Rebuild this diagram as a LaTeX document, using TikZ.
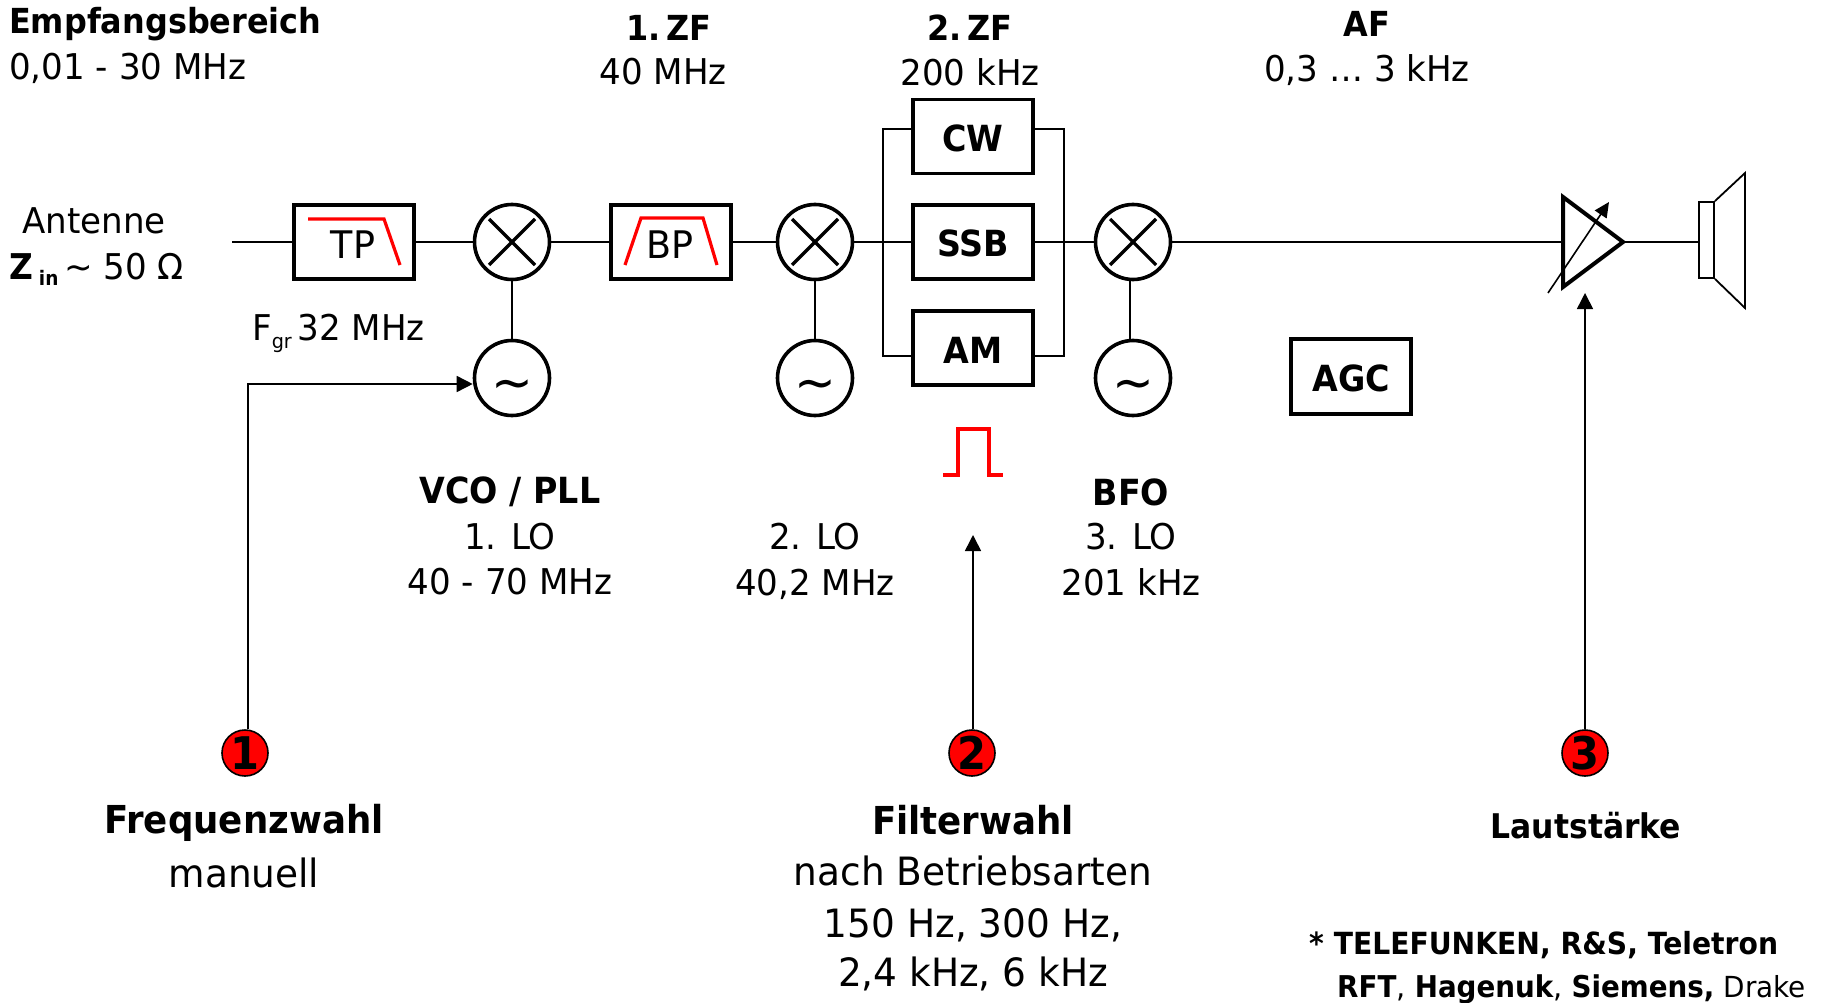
\documentclass[tikz,border=0pt]{standalone}
\usepackage{fontspec}
\setmainfont[FakeStretch=0.96,BoldFeatures={FakeStretch=0.925}]{DejaVu Sans}
\usetikzlibrary{arrows.meta}
\definecolor{redc}{RGB}{255,0,0}
\tikzset{
  x=1pt,y=-1pt,
  line/.style={draw=black,line width=1.6pt},
  arr/.style={line,-{Triangle[length=16pt,width=16pt]}},
  blockbox/.style={draw=black,line width=3.8pt,minimum width=120pt,minimum height=74pt,inner sep=0pt},
  blockbold/.style={blockbox,text height=30pt,text depth=0pt,font=\bfseries\fontsize{36}{36}\selectfont},
  rnd/.style={draw=black,line width=3.6pt,circle,minimum size=75pt,inner sep=0pt},
  osc/.style={rnd,text height=44pt,text depth=0pt,font=\fontsize{52}{52}\selectfont},
  cross/.style={line width=3.2pt},
  redl/.style={draw=redc,line width=3.2pt},
  lab/.style={inner sep=0pt,font=\fontsize{35.5}{35.5}\selectfont,anchor=center},
  labbold/.style={lab,font=\bfseries\fontsize{34.5}{34.5}\selectfont},
  lableft/.style={lab,anchor=west},
  big/.style={inner sep=0pt,font=\fontsize{39}{39}\selectfont},
  bigbold/.style={big,font=\bfseries\fontsize{38.5}{38.5}\selectfont},
  small/.style={inner sep=0pt,anchor=west,font=\fontsize{30}{30}\selectfont},
  badge/.style={draw=black,line width=1.6pt,fill=redc,circle,minimum size=46pt,inner sep=-8pt,font=\bfseries\fontsize{45}{45}\selectfont},
  spk/.style={draw=black,line width=1.8pt,line join=miter}
}
\begin{document}
\begin{tikzpicture}
\useasboundingbox (0,0) rectangle (1821,1003);
% blocks
\node[blockbox] (tp) at (354,242) {};
\node[blockbox] (bp) at (671,242) {};
\node[blockbold] (cw) at (973,136.5) {CW};
\node[blockbold] (ssb) at (973,242) {SSB};
\node[blockbold] (am) at (973,348) {AM};
\node[blockbold,minimum height=75pt] (agc) at (1351,376.5) {AGC};
% mixers and oscillators
\node[rnd] (m1) at (512,242) {};
\node[rnd] (m2) at (815,242) {};
\node[rnd] (m3) at (1133,242) {};
\node[osc] (o1) at (512,378) {\symbol{"7E}};
\node[osc] (o2) at (815,378) {\symbol{"7E}};
\node[osc] (o3) at (1133,378) {\symbol{"7E}};
\foreach \m in {m1,m2,m3}{
  \draw[cross] ([shift={(-23,-23)}]\m.center) -- ([shift={(23,23)}]\m.center);
  \draw[cross] ([shift={(-23,23)}]\m.center) -- ([shift={(23,-23)}]\m.center);
}
% red filter curves and block labels
\node[lab,font=\fontsize{38}{38}\selectfont] (tpt) at (353,245) {TP};
\node[lab,font=\fontsize{38}{38}\selectfont] (bpt) at (670,245) {BP};
\draw[redl] (308,219) -- (384,219) -- (400,265);
\draw[redl] (625,265) -- (641,218) -- (703,218) -- (717,265);
\draw[redl] (943,475) -- (958,475) -- (958,429) -- (989,429) -- (989,475) -- (1003,475);
% signal path
\coordinate (ant) at (232,242);
\coordinate (blt) at (883,129);
\coordinate (brt) at (1064,129);
\coordinate (blb) at (883,356);
\coordinate (brb) at (1064,356);
\node[inner sep=0pt,minimum size=0pt] (a) at (1563,242) {};
\node[inner sep=0pt,minimum size=0pt] (atip) at (1623,242) {};
\draw[line] (ant) -- (tp.west);
\draw[line] (tp.east) -- (m1.west);
\draw[line] (m1.east) -- (bp.west);
\draw[line] (bp.east) -- (m2.west);
\draw[line] (m2.east) -- (ssb.west);
\draw[line] (ssb.east) -- (m3.west);
\draw[line] (m3.east) -- (a);
\draw[line] (m1.south) -- (o1.north);
\draw[line] (m2.south) -- (o2.north);
\draw[line] ([xshift=-3pt]m3.south) -- ([xshift=-3pt]o3.north);
\draw[line] (cw.west |- blt) -- (blt) -- (blb) -- (am.west |- blb);
\draw[line] (cw.east |- brt) -- (brt) -- (brb) -- (am.east |- brb);
% amplifier and speaker
\draw[draw=black,line width=4pt,line join=miter] (1563,197) -- (atip.center) -- (1563,287) -- cycle;
\coordinate (v0) at (1548,293);
\coordinate (v1) at (1609,202);
\draw[line,-{Triangle[length=15pt,width=14pt]}] (v0) -- (v1);
\node[draw=black,line width=1.8pt,minimum width=15pt,minimum height=76pt,inner sep=0pt] (spk) at (1706.5,240) {};
\coordinate (c1) at (1745,173);
\coordinate (c2) at (1745,308);
\draw[spk] (spk.north east) -- (c1) -- (c2) -- (spk.south east);
\draw[line] (atip.center) -- (spk.west |- atip);
% controls
\node[badge] (b1) at (245,753) {1};
\node[badge] (b2) at (972,753) {2};
\node[badge] (b3) at (1585,753) {3};
\coordinate (k1) at (248,384);
\draw[arr] (b1.north -| k1) -- (k1) -- (o1.west |- k1);
\coordinate (k2) at (973,535);
\draw[arr] (b2.north -| k2) -- (k2);
\coordinate (k3) at (1585,293);
\draw[arr] (b3.north) -- (k3);
% texts
\node[labbold,anchor=west] (t1) at (9,24) {Empfangsbereich};
\node[lableft] (t2) at (9,68) {0,01 - 30 MHz};
\node[labbold] (t3) at (669,28) {1.\hspace{.18em}ZF};
\node[lab] (t4) at (663,72) {40 MHz};
\node[labbold] (t5) at (970,28) {2.\hspace{.18em}ZF};
\node[lab] (t6) at (970,72) {200 kHz};
\node[labbold] (t7) at (1367,24) {AF};
\node[lab] (t8) at (1367,70) {0,3 … 3 kHz};
\node[lab] (t9) at (94,221) {Antenne};
\node[lableft] (t10) at (9,269) {\textbf{Z}\,\raisebox{-6pt}{\fontsize{20}{20}\selectfont\textbf{in}}\,\symbol{"007E} 50 Ω};
\node[lableft] (t11) at (252,333) {F\raisebox{-8pt}{\fontsize{20}{20}\selectfont gr}\,32 MHz};
\node[labbold,font=\bfseries\fontsize{36}{36}\selectfont] (t12) at (510,492) {VCO / PLL};
\node[lab] (t13) at (510,537) {1. LO};
\node[lab] (t14) at (510,582) {40 - 70 MHz};
\node[lab] (t15) at (815,537) {2. LO};
\node[lab] (t16) at (815,584) {40,2 MHz};
\node[labbold,font=\bfseries\fontsize{36}{36}\selectfont] (t17) at (1131,492) {BFO};
\node[lab] (t18) at (1131,537) {3. LO};
\node[lab] (t19) at (1131,582) {201 kHz};
\node[bigbold] (t20) at (244,823) {Frequenzwahl};
\node[big] (t21) at (244,873) {manuell};
\node[bigbold] (t22) at (973,820) {Filterwahl};
\node[big] (t23) at (973,871) {nach Betriebsarten};
\node[big] (t24) at (973,925) {150 Hz, 300 Hz,};
\node[big] (t25) at (973,974) {2,4 kHz, 6 kHz};
\node[labbold,font=\bfseries\fontsize{34}{34}\selectfont] (t26) at (1586,826) {Lautstärke};
\node[small,font=\bfseries\fontsize{30.5}{30.5}\selectfont] (t27) at (1309,945) {* TELEFUNKEN, R\&S, Teletron};
\node[small] (t28) at (1337,989) {\textbf{RFT}, \textbf{Hagenuk}, \textbf{Siemens,} \fontsize{29}{29}\selectfont Drake};
\end{tikzpicture}
\end{document}
